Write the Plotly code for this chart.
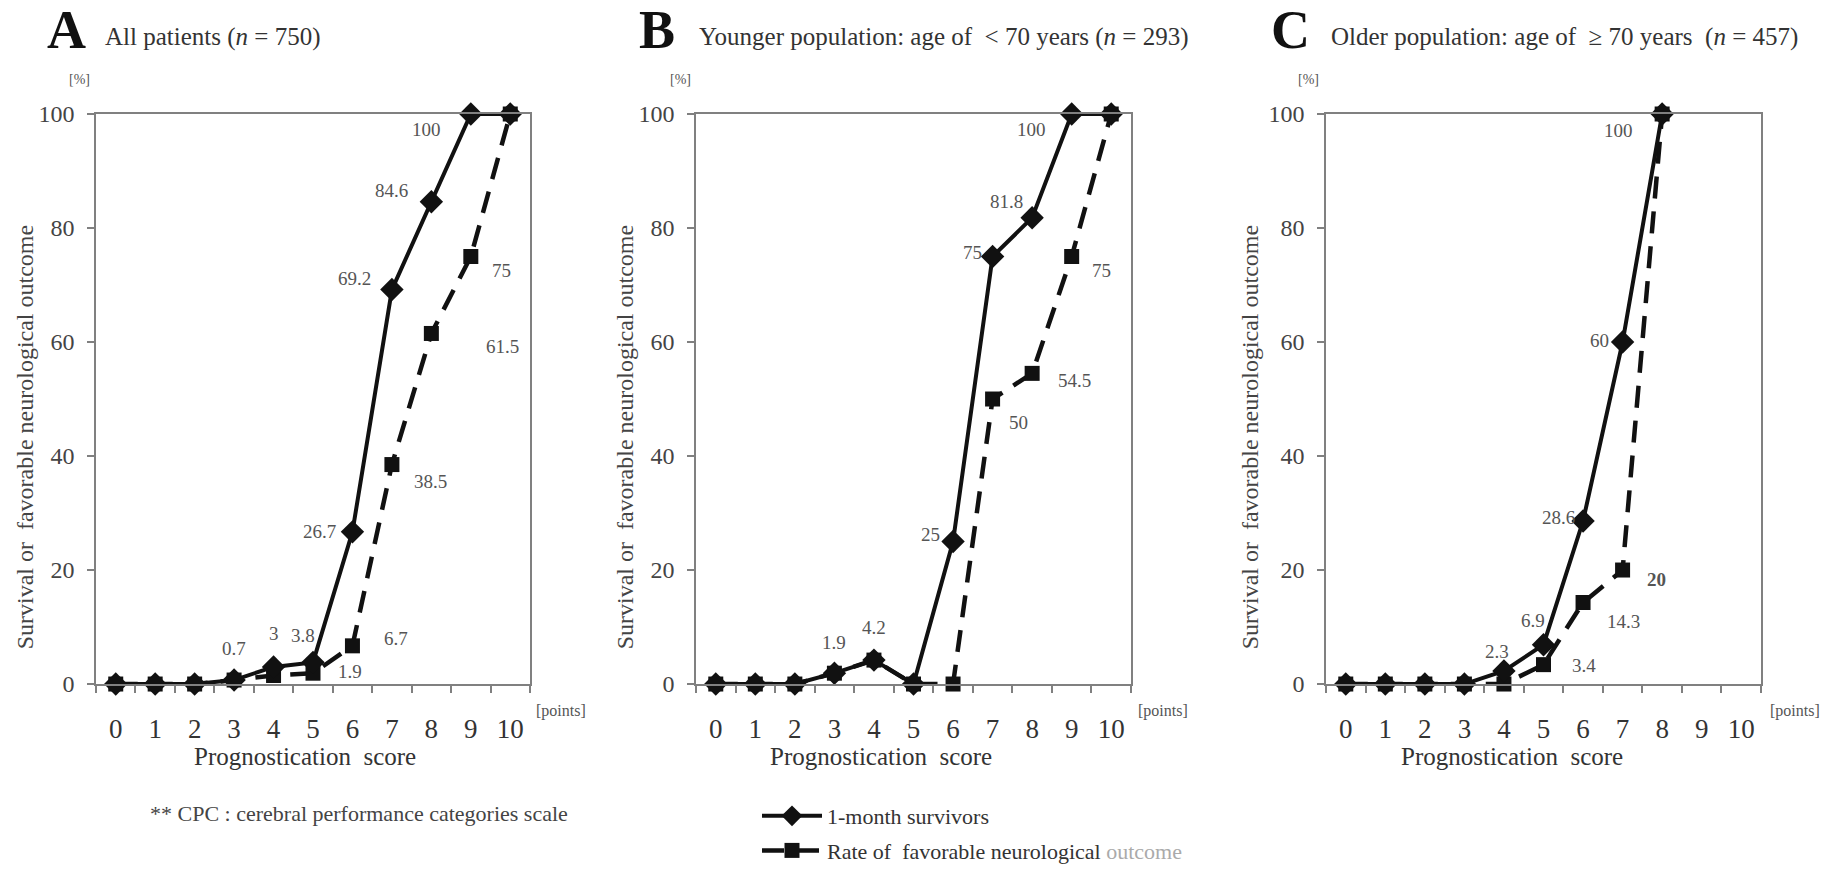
import plotly.graph_objects as go

# ---------------- data ----------------
scores = list(range(11))
score_labels = [str(s) for s in scores]
y_ticks = [0, 20, 40, 60, 80, 100]

a_surv = [0, 0, 0, 0.7, 3, 3.8, 26.7, 69.2, 84.6, 100, 100]
a_fav = [0, 0, 0, 0.7, 1.5, 1.9, 6.7, 38.5, 61.5, 75, 100]

b_surv = [0, 0, 0, 1.9, 4.2, 0, 25, 75, 81.8, 100, 100]
b_fav = [0, 0, 0, 1.9, 4.2, 0, 0, 50, 54.5, 75, 100]

c_scores = list(range(9))
c_surv = [0, 0, 0, 0, 2.3, 6.9, 28.6, 60, 100]
c_fav = [0, 0, 0, 0, 0, 3.4, 14.3, 20, 100]

# indices of labelled points
a_surv_lab = [3, 4, 5, 6, 7, 8, 9]
a_fav_lab = [5, 6, 7, 8, 9]
b_surv_lab = [3, 4, 6, 7, 8, 9]
b_fav_lab = [7, 8, 9]
c_surv_lab = [4, 5, 6, 7, 8]
c_fav_lab = [5, 6, 7]

# label offsets in pixels (dx right, dy down)
a_surv_off = [(0, -32), (0, -33), (-10, -27), (-33, 0), (-37, -11), (-40, -11), (-44, 15)]
a_fav_off = [(37, -2), (44, -7), (39, 17), (71, 13), (31, 14)]
b_surv_off = [(0, -31), (0, -33), (-23, -7), (-20, -4), (-26, -16), (-40, 15)]
b_fav_off = [(26, 23), (42, 7), (30, 14)]
c_surv_off = [(-7, -19), (-11, -24), (-25, -4), (-23, -2), (-44, 16)]
c_fav_off = [(40, 1), (40, 19), (34, 9)]
c_fav_bold = [7]

SERIF = "Liberation Serif, Times New Roman, serif"
W, H = 1834, 872

fig = go.Figure()

panels = [
    ("x", "y", scores, a_surv, a_fav, a_surv_lab, a_fav_lab, a_surv_off, a_fav_off, True, []),
    ("x2", "y2", scores, b_surv, b_fav, b_surv_lab, b_fav_lab, b_surv_off, b_fav_off, False, []),
    ("x3", "y3", c_scores, c_surv, c_fav, c_surv_lab, c_fav_lab, c_surv_off, c_fav_off, False,
     c_fav_bold),
]

LABEL_FONT = dict(family=SERIF, size=19, color="#555555")

annotations = []
for xa, ya, xs, surv, fav, sl, fl, so, fo, show, bold in panels:
    fig.add_trace(go.Scatter(
        x=xs, y=fav, xaxis=xa, yaxis=ya, mode="lines+markers",
        name='Rate of  favorable neurological <span style="color:#aaaaaa">outcome</span>',
        line=dict(color="#111111", width=4.5, dash="22px,13px"),
        marker=dict(symbol="square", size=15, color="#111111"),
        cliponaxis=False, showlegend=show, legendgroup="fav", legendrank=2))
    fig.add_trace(go.Scatter(
        x=xs, y=surv, xaxis=xa, yaxis=ya, mode="lines+markers",
        name="1-month survivors",
        line=dict(color="#111111", width=4),
        marker=dict(symbol="diamond", size=18, color="#111111"),
        cliponaxis=False, showlegend=show, legendgroup="surv", legendrank=1))
    for idx, (dx, dy) in zip(sl, so):
        annotations.append(dict(x=xs[idx], y=surv[idx], xref=xa, yref=ya,
                                xanchor="center", yanchor="middle",
                                text=f"{surv[idx]:g}", showarrow=False,
                                xshift=dx, yshift=-dy, font=LABEL_FONT))
    for idx, (dx, dy) in zip(fl, fo):
        txt = f"{fav[idx]:g}"
        if idx in bold:
            txt = f"<b>{txt}</b>"
        annotations.append(dict(x=xs[idx], y=fav[idx], xref=xa, yref=ya,
                                xanchor="center", yanchor="middle",
                                text=txt, showarrow=False,
                                xshift=dx, yshift=-dy, font=LABEL_FONT))


def px(x):
    return x / W


def py(y):
    return 1 - y / H


domains = [(96, 530), (696, 1131), (1326, 1761)]
y_dom = [py(696), py(116)]

axis_line = "#808080"
for i, (l, r) in enumerate(domains):
    sfx = "" if i == 0 else str(i + 1)
    fig.update_layout(**{
        f"xaxis{sfx}": dict(
            domain=[px(l), px(r)], anchor=f"y{sfx}", range=[-0.5, 10.5],
            automargin=False,
            tickvals=scores, ticktext=score_labels, ticks="", ticklabelstandoff=20,
            showline=True, linecolor=axis_line, linewidth=1.5, mirror=True,
            showgrid=False, zeroline=False,
            minor=dict(tickvals=[s - 0.5 for s in scores] + [10.5], ticks="outside",
                       ticklen=7, tickcolor=axis_line, tickwidth=1.5, showgrid=False),
            tickfont=dict(family=SERIF, size=27, color="#333333")),
        f"yaxis{sfx}": dict(
            domain=y_dom, anchor=f"x{sfx}", range=[0, 100],
            automargin=False,
            tickvals=y_ticks, ticks="outside", ticklen=7, tickcolor=axis_line, tickwidth=1.5,
            ticklabelstandoff=8,
            showline=True, linecolor=axis_line, linewidth=1.5, mirror=True,
            showgrid=False, zeroline=False,
            tickfont=dict(family=SERIF, size=24, color="#444444")),
    })

# panel titles
letters = ["A", "B", "C"]
letter_x = [66, 657, 1290]
subtitles = ["All patients (<i>n</i> = 750)",
             "Younger population: age of  &lt; 70 years (<i>n</i> = 293)",
             "Older population: age of  \u2265 70 years  (<i>n</i> = 457)"]
sub_x = [103, 697, 1329]
pct_x = [79, 680, 1308]
ytitle_x = [25, 625, 1250]
pts_x = [561, 1163, 1795]
xtitle_x = [305, 881, 1512]


def pa(x, y, text, size, color="#333333", xanchor="center", angle=0):
    return dict(x=px(x), y=py(y), xref="paper", yref="paper", xanchor=xanchor,
                yanchor="middle", text=text, showarrow=False, textangle=angle,
                font=dict(family=SERIF, size=size, color=color))


for i in range(3):
    annotations.append(pa(letter_x[i], 31, f"<b>{letters[i]}</b>", 54, "#111111"))
    annotations.append(pa(sub_x[i], 38, subtitles[i], 25, "#333333", xanchor="left"))
    annotations.append(pa(pct_x[i], 81, "[%]", 14, "#555555"))
    annotations.append(pa(ytitle_x[i], 445, "Survival or  favorable neurological outcome",
                          24, "#444444", angle=-90))
    annotations.append(pa(pts_x[i], 723, "[points]", 16, "#555555"))
    annotations.append(pa(xtitle_x[i], 770, "Prognostication  score", 25, "#333333"))

annotations.append(pa(148, 828, "** CPC : cerebral performance categories scale", 22,
                      "#444444", xanchor="left"))

fig.update_layout(
    width=W, height=H,
    margin=dict(l=0, r=0, t=0, b=0, pad=0),
    paper_bgcolor="white", plot_bgcolor="white",
    annotations=annotations,
    showlegend=True,
    legend=dict(x=px(757), y=py(809), xanchor="left", yanchor="top",
                traceorder="grouped", tracegroupgap=3,
                font=dict(family=SERIF, size=22, color="#333333"),
                bgcolor="rgba(0,0,0,0)", itemwidth=60),
)

fig.write_html("out.html",
               config={"displayModeBar": False},
               post_script="document.body.style.margin='0px';"
                           "document.body.style.overflow='hidden';")
